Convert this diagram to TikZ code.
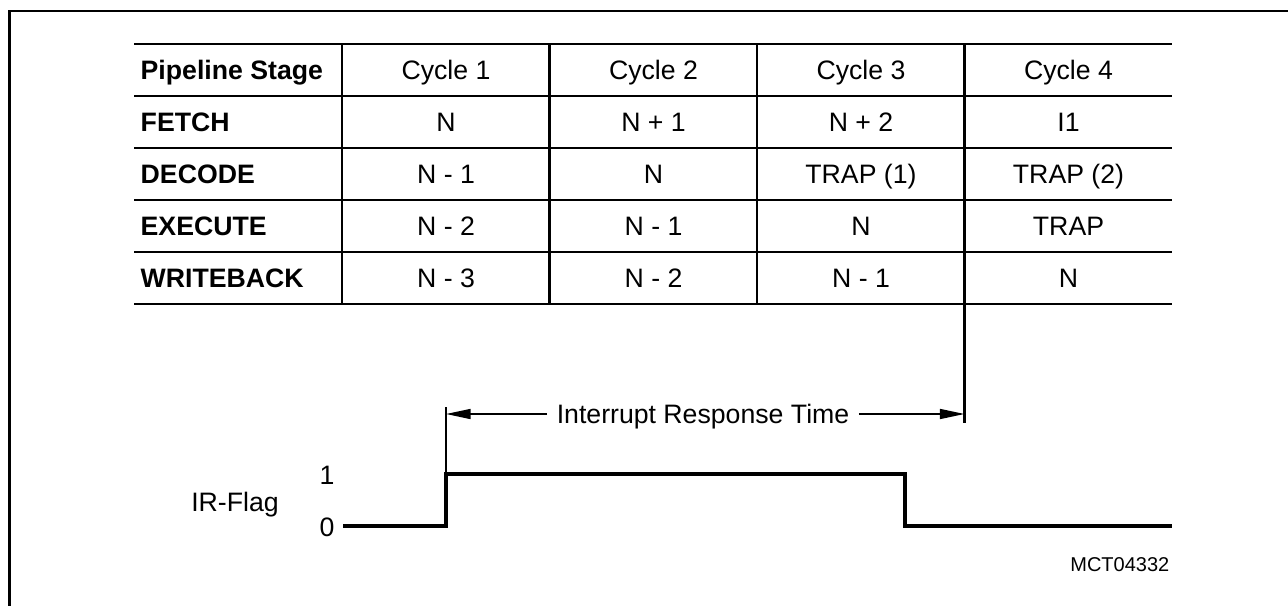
\documentclass[tikz,border=0pt]{standalone}
\usepackage{fontspec}
\setmainfont{Liberation Sans}
\usetikzlibrary{arrows.meta}

\tikzset{
  rule/.style={line width=1.7pt},
  frameline/.style={line width=2.2pt},
  flagline/.style={line width=3pt, line join=miter},
  markline/.style={line width=1.2pt},
  dimarrow/.style={line width=1.2pt, -{Triangle[length=18.5pt,width=7.5pt]}},
  cell/.style={font=\fontsize{20}{24}\selectfont, text height=14.5pt, text depth=0pt},
  stage/.style={cell, font=\fontsize{20}{24}\selectfont\bfseries, anchor=west},
  tag/.style={font=\fontsize{15}{18}\selectfont, anchor=east}
}

\begin{document}
\begin{tikzpicture}[x=0.75pt,y=0.75pt,yscale=-1,xscale=1]
\useasboundingbox (0,0) rectangle (1288,606);

%frame
\draw[frameline] (9.5,606) -- (9.5,11) -- (1288,11);

%table rules
\foreach \y in {44,96,148,200,252,304}
  \draw[rule] (134,\y) -- (1172,\y);
\foreach \x in {342,549.5,757}
  \draw[rule] (\x,44) -- (\x,304);
\coordinate (colfour) at (964.5,44);
\coordinate (endmark) at (964.5,423);
\draw[rule] (colfour) -- (endmark);

%stage names
\foreach \stg [count=\r] in {Pipeline Stage,FETCH,DECODE,EXECUTE,WRITEBACK}
  \node[stage] (s\r) at (136,{18+52*\r}) {\stg};

%cycle entries
\foreach \row [count=\r] in {{Cycle 1,Cycle 2,Cycle 3,Cycle 4},{N,N + 1,N + 2,I1},{N - 1,N,TRAP (1),TRAP (2)},{N - 2,N - 1,N,TRAP},{N - 3,N - 2,N - 1,N}}
  \foreach \txt [count=\c] in \row
    \node[cell] (c\r\c) at ({238.5+207.5*\c},{18+52*\r}) {\txt};

%IR flag signal
\node[cell] (irflag) at (235,502) {IR-Flag};
\node[cell] (one) at (327,475) {1};
\node[cell] (zero) at (327,527) {0};
\coordinate (sigstart) at (343,526);
\coordinate (rise) at (446,474);
\coordinate (fall) at (905,526);
\coordinate (sigend) at (1172,526);
\coordinate (startmark) at (446,407);
\draw[flagline] (sigstart) -| (rise) -| (fall) -- (sigend);
\draw[markline] (startmark) -- (rise);

%response time
\node[cell, inner xsep=7pt] (irt) at (703,414) {Interrupt Response Time};
\draw[dimarrow] (irt.west) -- (irt.west -| startmark);
\draw[dimarrow] (irt.east) -- (irt.east -| endmark);

\node[tag] (figid) at (1174,565) {MCT04332};

\end{tikzpicture}
\end{document}
